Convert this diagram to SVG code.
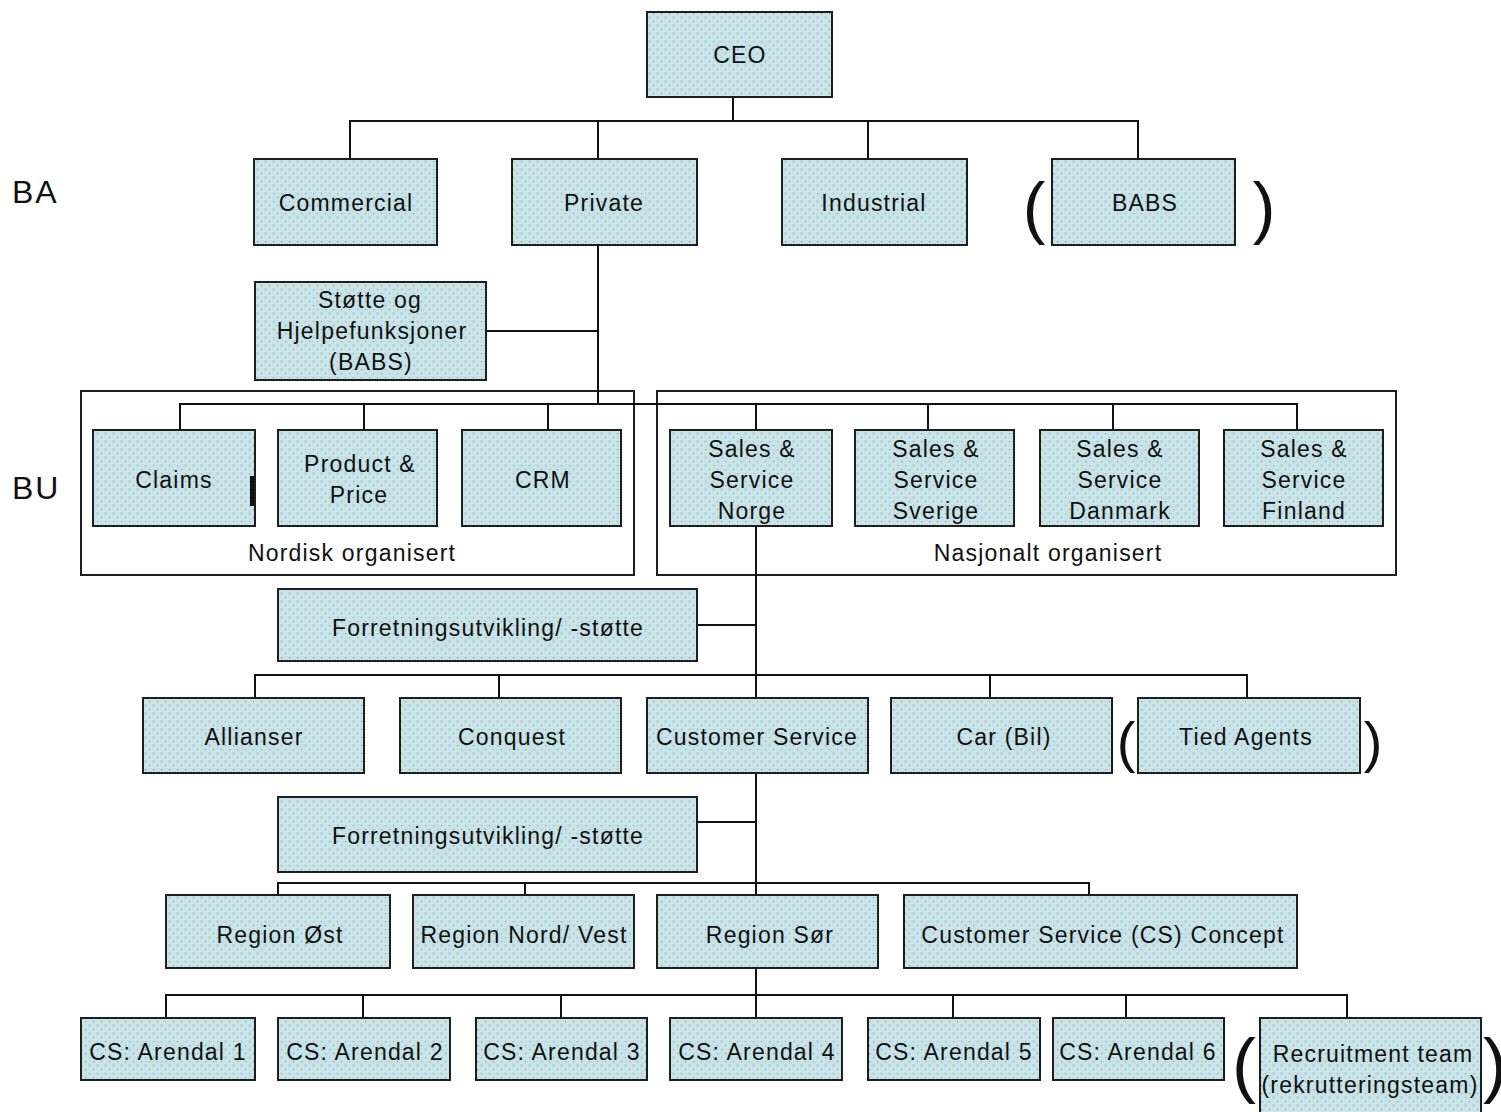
<svg xmlns="http://www.w3.org/2000/svg" width="1501" height="1112" viewBox="0 0 1501 1112">
<defs>
<pattern id="dots" width="8" height="8" patternUnits="userSpaceOnUse">
<rect width="8" height="8" fill="#c6e4e7"/>
<rect x="1" y="1" width="1.2" height="1.2" fill="#a89ea6"/>
<rect x="5" y="5" width="1.2" height="1.2" fill="#a89ea6"/>
</pattern>
<style>
.box{fill:url(#dots);stroke:#1e1e1e;stroke-width:2}
.grp{fill:none;stroke:#1e1e1e;stroke-width:2}
.t{font-family:"Liberation Sans",Arial,sans-serif;font-size:23px;letter-spacing:1.2px;fill:#111;text-anchor:middle;dominant-baseline:central}
.lbl{font-family:"Liberation Sans",Arial,sans-serif;font-size:32px;fill:#111;letter-spacing:2px;dominant-baseline:central}
.par{font-family:"Liberation Sans",Arial,sans-serif;fill:#111;text-anchor:middle;dominant-baseline:central}
#connectors line{stroke:#111;stroke-width:2}
</style>
</defs>
<rect width="1501" height="1112" fill="#fff"/>

<text class="lbl" x="12" y="192">BA</text>
<text class="lbl" x="12" y="488">BU</text>

<g id="containers">
<rect class="grp" x="81" y="391" width="553" height="184"/>
<text class="t" x="352" y="553">Nordisk organisert</text>
<rect class="grp" x="657" y="391" width="739" height="184"/>
<text class="t" x="1048" y="553">Nasjonalt organisert</text>
</g>

<g id="connectors">
<line x1="733" y1="97" x2="733" y2="121"/>
<line x1="349" y1="121" x2="1139" y2="121"/>
<line x1="350" y1="121" x2="350" y2="159"/>
<line x1="598" y1="121" x2="598" y2="159"/>
<line x1="868" y1="121" x2="868" y2="159"/>
<line x1="1138" y1="121" x2="1138" y2="159"/>
<line x1="598" y1="245" x2="598" y2="405"/>
<line x1="486" y1="331" x2="598" y2="331"/>
<line x1="179" y1="404" x2="1298" y2="404"/>
<line x1="180" y1="404" x2="180" y2="430"/>
<line x1="364" y1="404" x2="364" y2="430"/>
<line x1="548" y1="404" x2="548" y2="430"/>
<line x1="756" y1="404" x2="756" y2="430"/>
<line x1="928" y1="404" x2="928" y2="430"/>
<line x1="1113" y1="404" x2="1113" y2="430"/>
<line x1="1297" y1="404" x2="1297" y2="430"/>
<line x1="756" y1="526" x2="756" y2="1018"/>
<line x1="697" y1="625" x2="756" y2="625"/>
<line x1="254" y1="675" x2="1248" y2="675"/>
<line x1="255" y1="675" x2="255" y2="698"/>
<line x1="499" y1="675" x2="499" y2="698"/>
<line x1="990" y1="675" x2="990" y2="698"/>
<line x1="1247" y1="675" x2="1247" y2="698"/>
<line x1="697" y1="822" x2="756" y2="822"/>
<line x1="277" y1="883" x2="1090" y2="883"/>
<line x1="278" y1="883" x2="278" y2="895"/>
<line x1="525" y1="883" x2="525" y2="895"/>
<line x1="1089" y1="883" x2="1089" y2="895"/>
<line x1="165" y1="995" x2="1348" y2="995"/>
<line x1="166" y1="995" x2="166" y2="1018"/>
<line x1="363" y1="995" x2="363" y2="1018"/>
<line x1="561" y1="995" x2="561" y2="1018"/>
<line x1="953" y1="995" x2="953" y2="1018"/>
<line x1="1126" y1="995" x2="1126" y2="1018"/>
<line x1="1347" y1="995" x2="1347" y2="1018"/>
</g>

<g id="ceo"><rect class="box" x="647" y="12" width="185" height="85"/><text class="t" x="740" y="55">CEO</text></g>
<g id="commercial"><rect class="box" x="254" y="159" width="183" height="86"/><text class="t" x="346" y="203">Commercial</text></g>
<g id="private"><rect class="box" x="512" y="159" width="185" height="86"/><text class="t" x="604" y="203">Private</text></g>
<g id="industrial"><rect class="box" x="782" y="159" width="185" height="86"/><text class="t" x="874" y="203">Industrial</text></g>
<g id="babs"><rect class="box" x="1052" y="159" width="183" height="86"/><text class="t" x="1145" y="203">BABS</text>
<text class="par" x="1034" y="207" font-size="68">(</text><text class="par" x="1264" y="207" font-size="68">)</text></g>
<g id="stotte"><rect class="box" x="255" y="282" width="231" height="98"/>
<text class="t" x="370" y="300">Støtte og</text><text class="t" x="372" y="331">Hjelpefunksjoner</text><text class="t" x="371" y="362">(BABS)</text></g>

<g id="claims"><rect class="box" x="93" y="430" width="162" height="96"/><text class="t" x="174" y="480">Claims</text><rect x="250" y="476" width="4" height="30" fill="#111"/></g>
<g id="product"><rect class="box" x="278" y="430" width="159" height="96"/><text class="t" x="360" y="464">Product &amp;</text><text class="t" x="359" y="495">Price</text></g>
<g id="crm"><rect class="box" x="462" y="430" width="159" height="96"/><text class="t" x="543" y="480">CRM</text></g>
<g id="norge"><rect class="box" x="670" y="430" width="162" height="96"/><text class="t" x="752" y="449">Sales &amp;</text><text class="t" x="752" y="480">Service</text><text class="t" x="752" y="511">Norge</text></g>
<g id="sverige"><rect class="box" x="855" y="430" width="159" height="96"/><text class="t" x="936" y="449">Sales &amp;</text><text class="t" x="936" y="480">Service</text><text class="t" x="936" y="511">Sverige</text></g>
<g id="danmark"><rect class="box" x="1040" y="430" width="159" height="96"/><text class="t" x="1120" y="449">Sales &amp;</text><text class="t" x="1120" y="480">Service</text><text class="t" x="1120" y="511">Danmark</text></g>
<g id="finland"><rect class="box" x="1224" y="430" width="159" height="96"/><text class="t" x="1304" y="449">Sales &amp;</text><text class="t" x="1304" y="480">Service</text><text class="t" x="1304" y="511">Finland</text></g>

<g id="forr1"><rect class="box" x="278" y="589" width="419" height="72"/><text class="t" x="488" y="628">Forretningsutvikling/ -støtte</text></g>

<g id="allianser"><rect class="box" x="143" y="698" width="221" height="75"/><text class="t" x="254" y="737">Allianser</text></g>
<g id="conquest"><rect class="box" x="400" y="698" width="221" height="75"/><text class="t" x="512" y="737">Conquest</text></g>
<g id="customer-service"><rect class="box" x="647" y="698" width="221" height="75"/><text class="t" x="757" y="737">Customer Service</text></g>
<g id="car"><rect class="box" x="891" y="698" width="221" height="75"/><text class="t" x="1004" y="737">Car (Bil)</text></g>
<g id="tied"><rect class="box" x="1138" y="698" width="222" height="75"/><text class="t" x="1246" y="737">Tied Agents</text>
<text class="par" x="1126" y="741" font-size="56">(</text><text class="par" x="1373" y="741" font-size="56">)</text></g>

<g id="forr2"><rect class="box" x="278" y="797" width="419" height="75"/><text class="t" x="488" y="836">Forretningsutvikling/ -støtte</text></g>

<g id="region-ost"><rect class="box" x="166" y="895" width="224" height="73"/><text class="t" x="280" y="935">Region Øst</text></g>
<g id="region-nordvest"><rect class="box" x="413" y="895" width="221" height="73"/><text class="t" x="524" y="935">Region Nord/ Vest</text></g>
<g id="region-sor"><rect class="box" x="657" y="895" width="221" height="73"/><text class="t" x="770" y="935">Region Sør</text></g>
<g id="cs-concept"><rect class="box" x="904" y="895" width="393" height="73"/><text class="t" x="1103" y="935">Customer Service (CS) Concept</text></g>

<g id="cs1"><rect class="box" x="81" y="1018" width="174" height="62"/><text class="t" x="168" y="1052">CS: Arendal 1</text></g>
<g id="cs2"><rect class="box" x="278" y="1018" width="172" height="62"/><text class="t" x="365" y="1052">CS: Arendal 2</text></g>
<g id="cs3"><rect class="box" x="476" y="1018" width="171" height="62"/><text class="t" x="562" y="1052">CS: Arendal 3</text></g>
<g id="cs4"><rect class="box" x="670" y="1018" width="172" height="62"/><text class="t" x="757" y="1052">CS: Arendal 4</text></g>
<g id="cs5"><rect class="box" x="868" y="1018" width="172" height="62"/><text class="t" x="954" y="1052">CS: Arendal 5</text></g>
<g id="cs6"><rect class="box" x="1053" y="1018" width="171" height="62"/><text class="t" x="1138" y="1052">CS: Arendal 6</text></g>
<g id="recruitment"><rect class="box" x="1260" y="1018" width="221" height="100"/><text class="t" x="1373" y="1054">Recruitment team</text><text class="t" x="1370" y="1085">(rekrutteringsteam)</text>
<text class="par" x="1244" y="1064" font-size="72">(</text><text class="par" x="1495" y="1064" font-size="72" text-anchor="end">)</text></g>
</svg>
